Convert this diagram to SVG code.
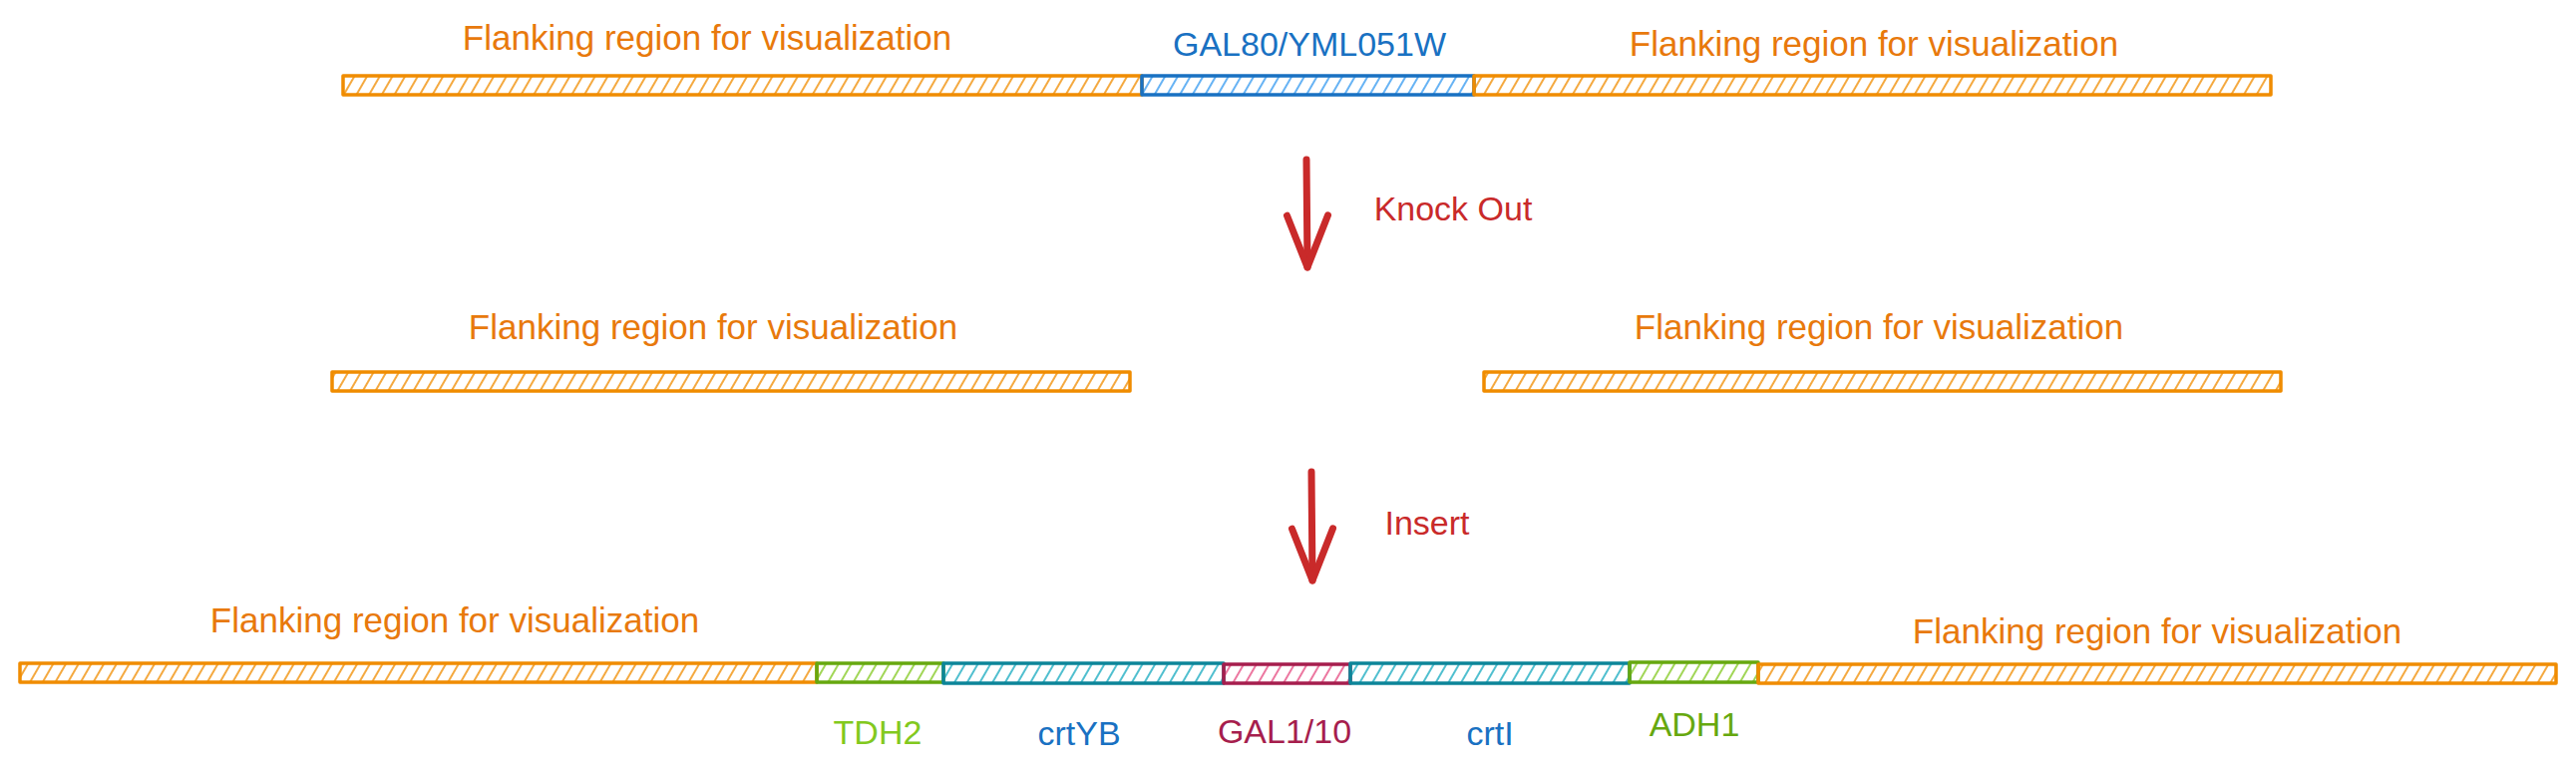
<svg xmlns="http://www.w3.org/2000/svg" width="2583" height="778" viewBox="0 0 2583 778">
<style>
text{font-family:"Liberation Sans","DejaVu Sans",sans-serif;font-size:34px;text-anchor:middle;dominant-baseline:central}
.fl{font-size:35px}
.t-or{fill:#e8790c}
.t-bl{fill:#1971c2}
.t-rd{fill:#c92a2a}
.t-gl{fill:#82c91e}
.t-gd{fill:#66a80f}
.t-pk{fill:#a61e4d}
.box{stroke-width:3.5;stroke-linejoin:round}
.b-or{fill:url(#h-or);stroke:#f08c00}
.b-bl{fill:url(#h-bl);stroke:#1971c2}
.b-gr{fill:url(#h-gr);stroke:#66a80f}
.b-te{fill:url(#h-te);stroke:#0c8599}
.b-pk{fill:url(#h-pk);stroke:#a61e4d}
.arrow{fill:none;stroke:#c92a2a;stroke-width:7;stroke-linecap:round;marker-end:url(#arr)}
</style>
<defs>
<pattern id="h-or" width="11" height="11" patternUnits="userSpaceOnUse" patternTransform="rotate(30)"><line x1="5" y1="0" x2="5" y2="11" stroke="#f08c00" stroke-width="1.5"/></pattern>
<pattern id="h-bl" width="11" height="11" patternUnits="userSpaceOnUse" patternTransform="rotate(30)"><line x1="5" y1="0" x2="5" y2="11" stroke="#339af0" stroke-width="1.5"/></pattern>
<pattern id="h-gr" width="11" height="11" patternUnits="userSpaceOnUse" patternTransform="rotate(30)"><line x1="5" y1="0" x2="5" y2="11" stroke="#82c91e" stroke-width="1.5"/></pattern>
<pattern id="h-te" width="11" height="11" patternUnits="userSpaceOnUse" patternTransform="rotate(30)"><line x1="5" y1="0" x2="5" y2="11" stroke="#15aabf" stroke-width="1.5"/></pattern>
<pattern id="h-pk" width="11" height="11" patternUnits="userSpaceOnUse" patternTransform="rotate(30)"><line x1="5" y1="0" x2="5" y2="11" stroke="#e64980" stroke-width="1.5"/></pattern>
<marker id="arr" markerUnits="userSpaceOnUse" orient="auto" markerWidth="80" markerHeight="60" viewBox="-70 -30 80 60" refX="0" refY="0" overflow="visible">
<path d="M-52,-21 L0,0 L-52,20" fill="none" stroke="#c92a2a" stroke-width="7" stroke-linecap="round" stroke-linejoin="round"/>
</marker>
</defs>
<rect width="2583" height="778" fill="#ffffff"/>

<!-- Row 1 -->
<g id="r1-left">
<rect class="box b-or" x="344" y="76" width="801" height="19"/>
<text class="t-or fl" x="709" y="37">Flanking region for visualization</text>
</g>
<g id="r1-gal80">
<rect class="box b-bl" x="1145" y="76" width="333" height="19"/>
<text class="t-bl" x="1313" y="44">GAL80/YML051W</text>
</g>
<g id="r1-right">
<rect class="box b-or" x="1478" y="76" width="799" height="19"/>
<text class="t-or fl" x="1879" y="43">Flanking region for visualization</text>
</g>

<!-- Row 2 -->
<g id="r2-left">
<rect class="box b-or" x="333" y="373" width="800" height="19"/>
<text class="t-or fl" x="715" y="327">Flanking region for visualization</text>
</g>
<g id="r2-right">
<rect class="box b-or" x="1488" y="373" width="799" height="19"/>
<text class="t-or fl" x="1884" y="327">Flanking region for visualization</text>
</g>

<!-- Row 3 -->
<g id="r3-left">
<rect class="box b-or" x="20" y="665" width="799" height="19"/>
<text class="t-or fl" x="456" y="621">Flanking region for visualization</text>
</g>
<g id="r3-tdh2">
<rect class="box b-gr" x="819" y="665" width="127" height="19"/>
<text class="t-gl" x="880" y="734">TDH2</text>
</g>
<g id="r3-crtyb">
<rect class="box b-te" x="946" y="665" width="281" height="20"/>
<text class="t-bl" x="1082" y="735">crtYB</text>
</g>
<g id="r3-gal110">
<rect class="box b-pk" x="1227" y="666" width="127" height="19"/>
<text class="t-pk" x="1288" y="733">GAL1/10</text>
</g>
<g id="r3-crti">
<rect class="box b-te" x="1354" y="665" width="280" height="20"/>
<text class="t-bl" x="1494" y="735">crtI</text>
</g>
<g id="r3-adh1">
<rect class="box b-gr" x="1634" y="664" width="129" height="20"/>
<text class="t-gd" x="1699" y="726">ADH1</text>
</g>
<g id="r3-right">
<rect class="box b-or" x="1763" y="666" width="800" height="19"/>
<text class="t-or fl" x="2163" y="632">Flanking region for visualization</text>
</g>

<!-- Connectors -->
<g id="connectors">
<g id="knockout">
<path class="arrow" d="M1310,160 L1311,268"/>
<text class="t-rd" x="1457" y="209">Knock Out</text>
</g>
<g id="insert">
<path class="arrow" d="M1315,473 L1316,582"/>
<text class="t-rd" x="1431" y="524">Insert</text>
</g>
</g>
</svg>
